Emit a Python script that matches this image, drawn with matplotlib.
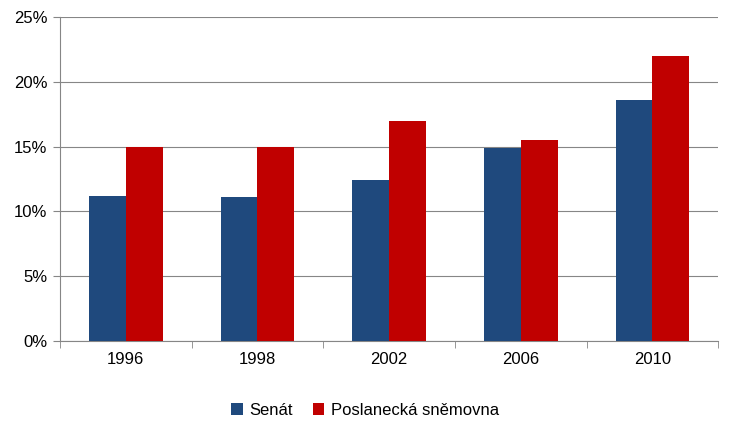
import matplotlib.pyplot as plt
import numpy as np
from matplotlib.ticker import FuncFormatter, FixedLocator

plt.rcParams['font.family'] = ['Liberation Sans', 'DejaVu Sans']

years = ["1996", "1998", "2002", "2006", "2010"]
senat = [11.2, 11.1, 12.4, 14.9, 18.6]
snemovna = [15.0, 15.0, 17.0, 15.5, 22.0]

fig = plt.figure(figsize=(7.3, 4.33), dpi=100)
ax = fig.add_axes([0.082, 0.212, 0.902, 0.749])

x = np.arange(len(years))
w = 0.28
ax.bar(x - w / 2, senat, w, color="#1F497D", label="Senát", zorder=3)
ax.bar(x + w / 2, snemovna, w, color="#C00000", label="Poslanecká sněmovna", zorder=3)

ax.set_xlim(-0.5, len(years) - 0.5)
ax.set_ylim(0, 25)
ax.set_yticks(np.arange(0, 26, 5))
ax.yaxis.set_major_formatter(FuncFormatter(lambda v, p: f"{v:.0f}%"))
ax.set_xticks(x)
ax.set_xticklabels(years)
ax.xaxis.set_minor_locator(FixedLocator(np.arange(-0.5, len(years), 1)))
ax.tick_params(axis="x", which="major", length=0, pad=8, labelsize=12)
ax.tick_params(axis="x", which="minor", length=5, color="#868686")
ax.tick_params(axis="y", length=5, color="#868686", labelsize=12, pad=4)
ax.grid(axis="y", color="#868686", linewidth=0.8, zorder=0)
for s in ["top", "right"]:
    ax.spines[s].set_visible(False)
for s in ["left", "bottom"]:
    ax.spines[s].set_color("#868686")

fig.legend(loc="lower center", bbox_to_anchor=(0.5, 0.0), ncol=2, frameon=False,
           fontsize=12, handlelength=0.7, handleheight=0.7, columnspacing=1.2,
           handletextpad=0.4)

fig.savefig("out.png", dpi=100)
